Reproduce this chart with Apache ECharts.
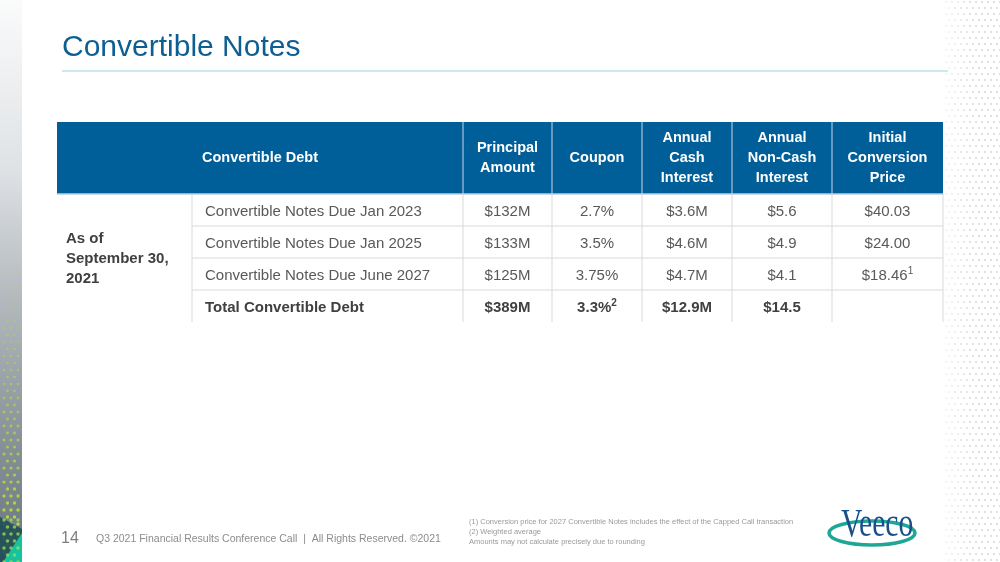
<!DOCTYPE html>
<html>
<head>
<meta charset="utf-8">
<script src="https://cdn.jsdelivr.net/npm/echarts@6/dist/echarts.min.js"></script>
<style>
html,body{margin:0;padding:0;background:#fff;}
#chart{width:1000px;height:562px;}
</style>
</head>
<body>
<div id="chart"></div>
<script>
// ---- Data ----
const title = 'Convertible Notes';
const headers = ['Convertible Debt', 'Principal\nAmount', 'Coupon', 'Annual\nCash\nInterest', 'Annual\nNon-Cash\nInterest', 'Initial\nConversion\nPrice'];
const rowGroup = 'As of\nSeptember 30,\n2021';
const notes = ['Convertible Notes Due Jan 2023', 'Convertible Notes Due Jan 2025', 'Convertible Notes Due June 2027', 'Total Convertible Debt'];
const principal = ['$132M', '$133M', '$125M', '$389M'];
const coupon = ['2.7%', '3.5%', '3.75%', '3.3%{sup|2}'];
const cashInterest = ['$3.6M', '$4.6M', '$4.7M', '$12.9M'];
const nonCashInterest = ['$5.6', '$4.9', '$4.1', '$14.5'];
const conversionPrice = ['$40.03', '$24.00', '$18.46{sup|1}', ''];
const pageNumber = '14';
const footerText = 'Q3 2021 Financial Results Conference Call  |  All Rights Reserved. ©2021';
const footnotes = [
  '(1) Conversion price for 2027 Convertible Notes includes the effect of the Capped Call transaction',
  '(2) Weighted average',
  'Amounts may not calculate precisely due to rounding'
];
const logoText = 'Veeco';

// ---- Layout ----
const colEdges = [57, 192, 463, 552, 642, 732, 832, 943];
const headTop = 122, headH = 72, rowH = 32;
const FONT = '"Liberation Sans", Arial, sans-serif';
const BLUE = '#005f98';
const GRID = '#d9d9d9';

const g = [];
function txt(x, y, text, opts) {
  const s = Object.assign({
    x: x, y: y, text: text,
    fontFamily: FONT, fontSize: 15, fill: '#595959',
    align: 'center', textAlign: 'center',
    verticalAlign: 'middle', textVerticalAlign: 'middle'
  }, opts || {});
  if (s.align) s.textAlign = s.align;
  if (s.verticalAlign) s.textVerticalAlign = s.verticalAlign;
  g.push({ type: 'text', z: 10, silent: true, style: s });
}
function line(x1, y1, x2, y2, stroke, w) {
  g.push({ type: 'line', z: 5, silent: true, shape: { x1, y1, x2, y2 }, style: { stroke: stroke, lineWidth: w || 1 } });
}

// left decorative strip
g.push({ type: 'rect', z: 1, shape: { x: 0, y: 0, width: 22, height: 562 },
  style: { fill: new echarts.graphic.LinearGradient(0, 0, 0, 1, [
    { offset: 0, color: '#fafbfb' }, { offset: 0.3, color: '#dfe2e5' },
    { offset: 0.53, color: '#b3b9bf' }, { offset: 0.8, color: '#858f97' }, { offset: 1, color: '#69757e' }]) } });
for (let r = 0; r < 60; r++) {
  const y = 230 + r * 7;
  if (y > 560) break;
  const t = (y - 230) / (560 - 230);
  for (let c = 0; c < 4; c++) {
    const x = 4 + c * 7 + (r % 2 ? 3.5 : 0);
    if (x > 21) continue;
    g.push({ type: 'circle', z: 2, silent: true, shape: { cx: x, cy: y, r: 1.0 + t * 0.8 },
      style: { fill: '#b6dc3c', opacity: Math.min(0.95, 0.08 + t * 1.0) } });
  }
}
g.push({ type: 'polygon', z: 3, shape: { points: [[0, 517], [22, 529], [22, 562], [0, 562]] }, style: { fill: '#1f4e57', opacity: 0.9 } });
g.push({ type: 'polygon', z: 4, shape: { points: [[22, 533], [22, 562], [3, 562]] }, style: { fill: '#17c29f' } });
for (let r = 0; r < 7; r++) {
  const y = 520 + r * 7;
  for (let c = 0; c < 4; c++) {
    const x = 4 + c * 7 + (r % 2 ? 3.5 : 0);
    if (x > 21) continue;
    g.push({ type: 'circle', z: 5, silent: true, shape: { cx: x, cy: y, r: 1.8 },
      style: { fill: '#9fe05a', opacity: 0.75 } });
  }
}

// right dotted texture
for (let r = 0; r < 95; r++) {
  const y = 2 + r * 6;
  for (let c = 0; c < 10; c++) {
    const x = 946 + c * 6 + (r % 2 ? 3 : 0);
    if (x > 1000) continue;
    const t = Math.min(1, (x - 946) / 30);
    g.push({ type: 'circle', z: 1, silent: true, shape: { cx: x, cy: y, r: 0.9 },
      style: { fill: '#c4c7ca', opacity: 0.25 + 0.6 * t } });
  }
}

// title
txt(62, 48, title, { align: 'left', fontSize: 30, fill: '#0d5f92' });
line(62, 71, 948, 71, '#cdeaea', 2);

// header
g.push({ type: 'rect', z: 4, shape: { x: colEdges[0], y: headTop, width: colEdges[7] - colEdges[0], height: headH }, style: { fill: BLUE } });
for (let i = 2; i < colEdges.length - 1; i++) line(colEdges[i], headTop, colEdges[i], headTop + headH, '#c9d7e3', 1);
line(colEdges[0], headTop + headH, colEdges[7], headTop + headH, '#b9d0e2', 1.5);
const headStyle = { fill: '#ffffff', fontWeight: 'bold', fontSize: 14.5, lineHeight: 20 };
txt((colEdges[0] + colEdges[2]) / 2, headTop + headH / 2, headers[0], headStyle);
for (let i = 1; i < headers.length; i++) {
  txt((colEdges[i + 1] + colEdges[i + 2]) / 2, headTop + headH / 2, headers[i], headStyle);
}

// body grid
const bodyTop = headTop + headH, bodyBottom = bodyTop + rowH * notes.length;
for (let i = 1; i < colEdges.length; i++) line(colEdges[i], bodyTop, colEdges[i], bodyBottom, GRID, 1);
for (let r = 1; r < notes.length; r++) line(colEdges[1], bodyTop + r * rowH, colEdges[7], bodyTop + r * rowH, GRID, 1);

// row group label
txt(66, (bodyTop + bodyBottom) / 2 + 1, rowGroup, { align: 'left', fontWeight: 'bold', fill: '#404040', lineHeight: 20 });

// body cells
const valueCols = [principal, coupon, cashInterest, nonCashInterest, conversionPrice];
for (let r = 0; r < notes.length; r++) {
  const cy = bodyTop + r * rowH + rowH / 2 + 1.5;
  const total = r === notes.length - 1;
  const st = total ? { fontWeight: 'bold', fill: '#404040' } : {};
  txt(colEdges[1] + 13, cy, notes[r], Object.assign({ align: 'left' }, st));
  valueCols.forEach((col, ci) => {
    if (!col[r]) return;
    const color = total ? '#404040' : '#595959';
    const o = Object.assign({ lineHeight: 18, rich: { sup: { fontSize: 10, verticalAlign: 'top', lineHeight: 18, fill: color, fontFamily: FONT, fontWeight: total ? 'bold' : 'normal' } } }, st);
    txt((colEdges[ci + 2] + colEdges[ci + 3]) / 2, cy, col[r], o);
  });
}

// footer
txt(61, 539, pageNumber, { align: 'left', fontSize: 16, fill: '#7f7f7f' });
txt(96, 539, footerText, { align: 'left', fontSize: 10.5, fill: '#8c8c8c' });
footnotes.forEach((f, i) => txt(469, 522 + i * 10, f, { align: 'left', fontSize: 7.5, fill: '#9a9a9a' }));

// logo
g.push({ type: 'ellipse', z: 6, silent: true, shape: { cx: 872, cy: 533, rx: 43, ry: 12 },
  style: { fill: 'none', stroke: '#1fa796', lineWidth: 3.5 } });
g.push({ type: 'text', z: 7, silent: true, x: 841, y: 525, scaleX: 0.74,
  style: { x: 0, y: 0, text: logoText, fontFamily: '"Liberation Serif", "DejaVu Serif", serif', fontSize: 40, fill: '#1b4f8c',
    align: 'left', textAlign: 'left', verticalAlign: 'middle', textVerticalAlign: 'middle' } });

const chart = echarts.init(document.getElementById('chart'), null, { renderer: 'canvas' });
chart.setOption({ backgroundColor: '#ffffff', animation: false, graphic: { elements: g } });
</script>
</body>
</html>
